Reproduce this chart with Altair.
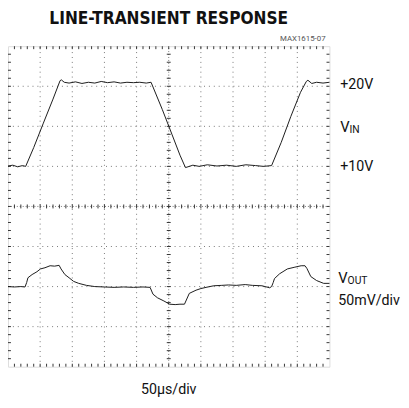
import altair as alt
import pandas as pd
import numpy as np

# ---- data (screen divisions: x 0..10 at 50us/div, y 0..8 div) ----
t_vin = [0, 0.15, 0.3, 0.45, 0.55, 0.8, 1.1, 1.4, 1.62, 1.66, 1.75, 1.9, 2.1, 2.3, 2.5, 2.7, 2.9,
         3.1, 3.3, 3.5, 3.7, 3.9, 4.1, 4.3, 4.45, 4.8, 5.1, 5.35, 5.52, 5.6, 5.75, 5.95, 6.2, 6.5,
         6.8, 7.1, 7.4, 7.7, 7.95, 8.2, 8.5, 8.8, 9.1, 9.28, 9.33, 9.45, 9.6, 9.8, 10.0]
vin = [5.01, 5.03, 4.99, 5.02, 5.0, 5.47, 6.08, 6.68, 7.14, 7.16, 7.1, 7.08, 7.11, 7.07, 7.1, 7.08,
       7.12, 7.09, 7.11, 7.08, 7.1, 7.09, 7.1, 7.08, 7.1, 6.42, 5.8, 5.28, 4.97, 4.99, 5.03, 5.0,
       5.04, 5.01, 5.03, 5.0, 5.04, 5.02, 5.0, 5.02, 5.6, 6.25, 6.85, 7.12, 7.15, 7.07, 7.1, 7.08, 7.1]

t_vout = [0, 0.2, 0.4, 0.53, 0.58, 0.62, 0.75, 0.9, 1.01, 1.15, 1.31, 1.45, 1.59, 1.65, 1.77, 1.9,
          2.04, 2.2, 2.44, 2.7, 3.0, 3.3, 3.6, 3.9, 4.2, 4.42, 4.51, 4.65, 4.85, 5.03, 5.2, 5.35,
          5.49, 5.64, 5.85, 6.0, 6.16, 6.4, 6.65, 6.86, 7.1, 7.38, 7.6, 7.9, 8.14, 8.2, 8.25, 8.29,
          8.45, 8.69, 8.9, 9.12, 9.24, 9.3, 9.42, 9.6, 9.82, 10.0]
vout = [2.0, 1.99, 2.0, 1.99, 2.1, 2.22, 2.3, 2.37, 2.44, 2.47, 2.52, 2.51, 2.53, 2.44, 2.30, 2.22,
        2.13, 2.08, 2.03, 2.0, 1.99, 1.98, 1.99, 1.98, 1.99, 1.98, 1.81, 1.72, 1.64, 1.56, 1.55, 1.56,
        1.56, 1.83, 1.91, 1.95, 1.98, 2.02, 2.03, 2.04, 2.03, 2.05, 2.03, 2.02, 1.97, 2.0, 2.1, 2.2,
        2.32, 2.44, 2.48, 2.52, 2.52, 2.45, 2.25, 2.15, 2.08, 2.08]

W, H = 328, 327
FONT = "Roboto, Liberation Sans, sans-serif"
TFONT = "DejaVu Sans Condensed, DejaVu Sans, sans-serif"

xs = alt.Scale(domain=[0, 10], nice=False, zero=False)
ys = alt.Scale(domain=[0, 8], nice=False, zero=False)

traces = pd.concat([
    pd.DataFrame({"t": t_vin, "v": vin, "s": "VIN"}),
    pd.DataFrame({"t": t_vout, "v": vout, "s": "VOUT"}),
])

px_x = 10 / W
px_y = 8 / H

# grid rules (structure, not data)
grid_rows = []
for gx in [1, 2, 3, 4, 6, 7, 8, 9]:
    grid_rows.append((gx, gx, 0, 8))
for gy in [1, 2, 3, 5, 6, 7]:
    grid_rows.append((0, 10, gy, gy))
grid = pd.DataFrame(grid_rows, columns=["x", "x2", "y", "y2"])
center = pd.DataFrame([(5, 5, 0, 8), (0, 10, 4, 4)], columns=["x", "x2", "y", "y2"])

minor_x = np.round(np.arange(0.2, 10, 0.2), 3)
minor_y = np.round(np.arange(0.2, 8, 0.2), 3)
rows = []
for m in minor_x:
    rows.append((m, m, 8, 8 - 3 * px_y))
    rows.append((m, m, 0, 3 * px_y))
    rows.append((m, m, 4 - 2 * px_y, 4 + 2 * px_y))
for m in minor_y:
    rows.append((0, 3 * px_x, m, m))
    rows.append((10 - 3 * px_x, 10, m, m))
    rows.append((5 - 2 * px_x, 5 + 2 * px_x, m, m))
ticks = pd.DataFrame(rows, columns=["x", "x2", "y", "y2"])


def rules(df, dash, color="#777"):
    kw = dict(color=color, strokeWidth=1)
    if dash:
        kw["strokeDash"] = dash
    return alt.Chart(df).mark_rule(**kw).encode(
        x=alt.X("x:Q", scale=xs, axis=None), x2="x2:Q",
        y=alt.Y("y:Q", scale=ys, axis=None), y2="y2:Q")


lines = alt.Chart(traces).mark_line(color="#1a1a1a", strokeWidth=1).encode(
    x=alt.X("t:Q", scale=xs, axis=None),
    y=alt.Y("v:Q", scale=ys, axis=None),
    detail="s:N")

# text annotations (pixel positions relative to plot area)
lab = pd.DataFrame([
    ("LINE-TRANSIENT RESPONSE", 164, -23, 17.5, "center", "bold", "#111", TFONT),
    ("MAX1615-07", 324, -5, 8, "right", "normal", "#555", FONT),
    ("+20V", 339, 44, 14.5, "left", "normal", "#111", FONT),
    ("V", 339, 88, 15, "left", "normal", "#111", FONT),
    ("IN", 348.5, 89, 10.5, "left", "normal", "#111", FONT),
    ("+10V", 339, 127, 14.5, "left", "normal", "#111", FONT),
    ("V", 337, 242, 15, "left", "normal", "#111", FONT),
    ("OUT", 346.5, 243, 10.5, "left", "normal", "#111", FONT),
    ("50mV/div", 337, 264, 14.5, "left", "normal", "#111", FONT),
    ("50\u00b5s/div", 164, 355, 14.5, "center", "normal", "#111", FONT),
], columns=["text", "px", "py", "size", "align", "weight", "color", "font"])


def txt(r):
    return alt.Chart(pd.DataFrame({"text": [r.text]})).mark_text(
        align=r.align, baseline="alphabetic", fontSize=float(r.size), font=r.font,
        fontWeight=r.weight, color=r.color).encode(
        text="text:N", x=alt.value(float(r.px)), y=alt.value(float(r.py)))


labels = [txt(r) for r in lab.itertuples()]

chart = alt.layer(
    rules(grid, [1, 4]), rules(center, [1, 2]), rules(ticks, None, "#333"), lines, *labels
).properties(
    width=W, height=H,
    autosize=alt.AutoSizeParams(type="none"),
    padding={"left": 0, "top": 35, "right": 73, "bottom": 30},
).configure_view(stroke="#111", strokeWidth=1.5).configure(background="white")

chart.save("out.html", embed_options={"renderer": "svg", "actions": False})
